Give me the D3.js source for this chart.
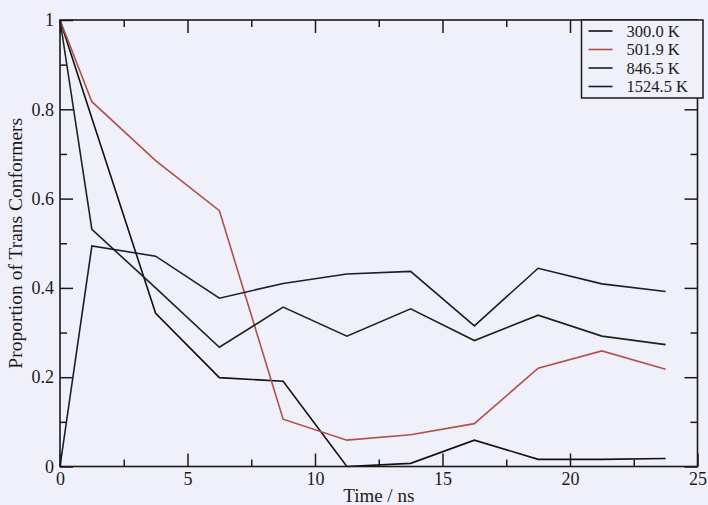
<!DOCTYPE html>
<html>
<head>
<meta charset="utf-8">
<script src="https://cdn.jsdelivr.net/npm/d3@7"></script>
<style>
  html, body { margin: 0; padding: 0; background: #f0f0fa; }
  svg { display: block; }
  text { font-family: "Liberation Serif", "DejaVu Serif", serif; fill: #1a1a1a; }
</style>
</head>
<body>
<svg id="chart" width="708" height="505"></svg>
<script>
// Sampling times (ns)
const times = [0, 1.25, 3.75, 6.25, 8.75, 11.25, 13.75, 16.25, 18.75, 21.25, 23.75];

// Proportion of trans conformers at each temperature
const t300  = [1, 0.78, 0.343, 0.199, 0.191, 0.0, 0.007, 0.059, 0.016, 0.016, 0.018];
const t502  = [1, 0.817, 0.685, 0.573, 0.106, 0.059, 0.071, 0.096, 0.220, 0.259, 0.218];
const t847  = [1, 0.531, 0.400, 0.267, 0.357, 0.292, 0.353, 0.282, 0.339, 0.292, 0.273];
const t1525 = [0, 0.494, 0.471, 0.377, 0.410, 0.431, 0.437, 0.315, 0.444, 0.409, 0.392];

const seriesNames = ["300.0 K", "501.9 K", "846.5 K", "1524.5 K"];
const seriesColors = ["#111111", "#b0504a", "#1b241b", "#1a1c30"];

const xMajor = [0, 5, 10, 15, 20, 25];
const xMinor = [2.5, 7.5, 12.5, 17.5, 22.5];
const yMajor = [0, 0.2, 0.4, 0.6, 0.8, 1];
const yMinor = [0.1, 0.3, 0.5, 0.7, 0.9];

const series = [t300, t502, t847, t1525].map((vals, i) => ({
  name: seriesNames[i],
  color: seriesColors[i],
  points: times.map((t, j) => [t, vals[j]])
}));

const svg = d3.select("#chart");
const plotL = 60, plotR = 697.5, plotT = 20, plotB = 466.5;

const x = d3.scaleLinear().domain([0, 25]).range([plotL, plotR]);
const y = d3.scaleLinear().domain([0, 1]).range([plotB, plotT]);

const axisColor = "#1a1a1a";
const majorLen = 13, minorLen = 7;

function styleAxis(g) {
  g.select(".domain").remove();
  g.selectAll(".tick line").attr("stroke", axisColor).attr("stroke-width", 1.5);
  g.selectAll(".tick text").style("font-size", "18px").attr("fill", "#1a1a1a");
}

// Bottom axis with labels
svg.append("g").attr("transform", `translate(0,${plotB})`)
  .call(d3.axisBottom(x).tickValues(xMajor).tickSize(-majorLen).tickPadding(6)
    .tickFormat(d3.format("d")))
  .call(styleAxis);
svg.append("g").attr("transform", `translate(0,${plotB})`)
  .call(d3.axisBottom(x).tickValues(xMinor).tickSize(-minorLen).tickFormat(""))
  .call(styleAxis);

// Top axis (ticks only)
svg.append("g").attr("transform", `translate(0,${plotT})`)
  .call(d3.axisTop(x).tickValues(xMajor).tickSize(-majorLen).tickFormat(""))
  .call(styleAxis);
svg.append("g").attr("transform", `translate(0,${plotT})`)
  .call(d3.axisTop(x).tickValues(xMinor).tickSize(-minorLen).tickFormat(""))
  .call(styleAxis);

// Left axis with labels
svg.append("g").attr("transform", `translate(${plotL},0)`)
  .call(d3.axisLeft(y).tickValues(yMajor).tickSize(-majorLen).tickPadding(6)
    .tickFormat(d => d === 0 || d === 1 ? d3.format("d")(d) : d3.format(".1f")(d)))
  .call(styleAxis);
svg.append("g").attr("transform", `translate(${plotL},0)`)
  .call(d3.axisLeft(y).tickValues(yMinor).tickSize(-minorLen).tickFormat(""))
  .call(styleAxis);

// Right axis (ticks only)
svg.append("g").attr("transform", `translate(${plotR},0)`)
  .call(d3.axisRight(y).tickValues(yMajor).tickSize(-majorLen).tickFormat(""))
  .call(styleAxis);
svg.append("g").attr("transform", `translate(${plotR},0)`)
  .call(d3.axisRight(y).tickValues(yMinor).tickSize(-minorLen).tickFormat(""))
  .call(styleAxis);

// Data lines
const line = d3.line().x(d => x(d[0])).y(d => y(d[1]));
svg.append("g").selectAll("path").data(series).join("path")
  .attr("d", d => line(d.points))
  .attr("fill", "none")
  .attr("stroke", d => d.color)
  .attr("stroke-width", 1.6)
  .attr("stroke-linejoin", "miter");

// Plot frame
svg.append("rect")
  .attr("x", plotL).attr("y", plotT)
  .attr("width", plotR - plotL).attr("height", plotB - plotT)
  .attr("fill", "none").attr("stroke", axisColor).attr("stroke-width", 1.6);

// Axis titles
svg.append("text")
  .attr("x", (plotL + plotR) / 2).attr("y", 502)
  .attr("text-anchor", "middle")
  .style("font-size", "19px")
  .text("Time / ns");

svg.append("text")
  .attr("transform", `translate(22,${(plotT + plotB) / 2}) rotate(-90)`)
  .attr("text-anchor", "middle")
  .style("font-size", "19.5px")
  .text("Proportion of Trans Conformers");

// Legend
const legX = 581.5, legTop = plotT, legW = 121.5, rowH = 18.5;
const legend = svg.append("g");
legend.append("rect")
  .attr("x", legX).attr("y", legTop)
  .attr("width", legW).attr("height", 4 + rowH * series.length)
  .attr("fill", "#f0f0fa").attr("stroke", axisColor).attr("stroke-width", 1.5);
const rows = legend.selectAll("g.row").data(series).join("g")
  .attr("class", "row")
  .attr("transform", (d, i) => `translate(${legX},${legTop + 11 + i * rowH})`);
rows.append("line")
  .attr("x1", 7).attr("x2", 31).attr("y1", 0).attr("y2", 0)
  .attr("stroke", d => d.color).attr("stroke-width", 1.6);
rows.append("text")
  .attr("x", 45).attr("y", 0).attr("dy", "0.35em")
  .style("font-size", "16.5px")
  .text(d => d.name);
</script>
</body>
</html>
